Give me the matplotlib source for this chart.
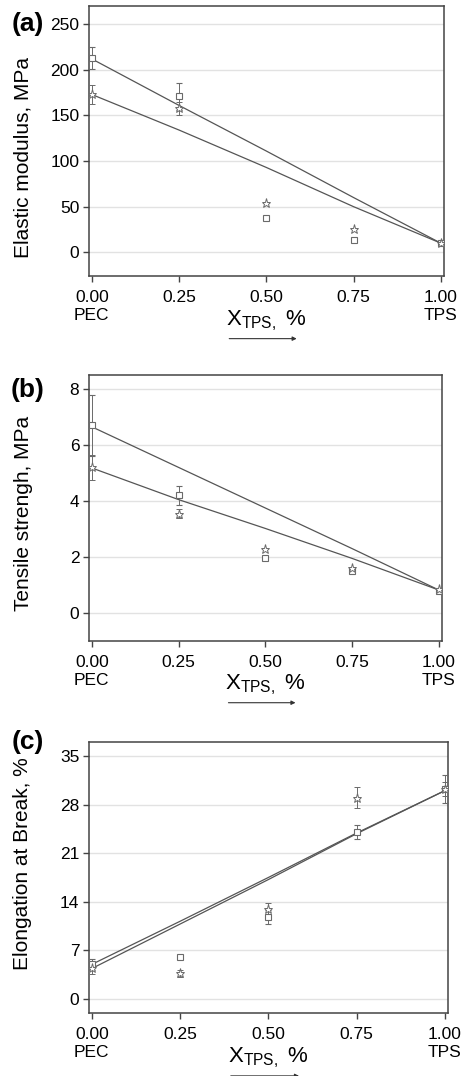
import numpy as np
import matplotlib
matplotlib.use('Agg')
from matplotlib import pyplot as plt

plt.rcParams['font.family'] = ['Liberation Sans', 'DejaVu Sans']
plt.rcParams['mathtext.default'] = 'regular'

# %% data
x = [0.0, 0.25, 0.5, 0.75, 1.0]
xtick_labels = ['0.00\nPEC', '0.25', '0.50', '0.75', '1.00\nTPS']

# (a) elastic modulus, MPa
mod_sq = [213, 171, 38, 14, 10]
mod_sq_err = [12, 15, 0, 0, 1]
mod_st = [173, 158, 54, 26, 10]
mod_st_err = [10, 7, 0, 0, 1]
mod_fit1 = [212, 161, 111, 60, 10]
mod_fit2 = [173, 134, 93, 50, 10]

# (b) tensile strength, MPa
ts_sq = [6.7, 4.2, 1.95, 1.5, 0.8]
ts_sq_err = [1.1, 0.35, 0, 0, 0.05]
ts_st = [5.2, 3.55, 2.3, 1.6, 0.85]
ts_st_err = [0.45, 0.15, 0, 0, 0.05]
ts_fit1 = [6.65, 5.2, 3.75, 2.3, 0.82]
ts_fit2 = [5.18, 4.05, 3.02, 1.95, 0.82]

# (c) elongation at break, %
el_sq = [5.0, 6.0, 11.8, 24.0, 30.2]
el_sq_err = [0.8, 0.2, 1.0, 1.0, 2.0]
el_st = [4.5, 3.7, 13.0, 29.0, 30.2]
el_st_err = [0.9, 0.5, 0.8, 1.5, 1.0]
el_fit1 = [5.0, 11.2, 17.5, 23.9, 30.0]
el_fit2 = [4.4, 10.8, 17.2, 23.8, 30.0]

W, H = 472, 1076
fig = plt.figure(figsize=(W / 100, H / 100), dpi=100)


def px_axes(left, right, top, bottom):
    return fig.add_axes([left / W, (H - bottom) / H, (right - left) / W, (bottom - top) / H])


def panel(ax, tag, tag_y, ylabel, yticks, ylim, sq, sq_err, st, st_err, fit1, fit2, ylab_y):
    lc = '#555555'
    mc = '#6a6a6a'
    ax.plot(x, fit1, color=lc, lw=0.9, zorder=3)
    ax.plot(x, fit2, color=lc, lw=0.9, zorder=3)
    ax.errorbar(x, sq, yerr=sq_err, fmt='s', ms=4.5, mfc='white', mec=mc, mew=0.8,
                ecolor=mc, elinewidth=0.7, capsize=2.2, capthick=0.7, zorder=4)
    ax.errorbar(x, st, yerr=st_err, fmt='*', ms=6.5, mfc='white', mec=mc, mew=0.7,
                ecolor=mc, elinewidth=0.7, capsize=2.2, capthick=0.7, zorder=4)
    ax.set_xlim(-0.008, 1.009)
    ax.set_ylim(*ylim)
    ax.set_yticks(yticks)
    ax.set_xticks(x)
    ax.set_xticklabels(xtick_labels, linespacing=1.25)
    ax.grid(axis='y', color='#e2e2e2', lw=1.0)
    ax.set_axisbelow(True)
    for s in ax.spines.values():
        s.set_color('#444444')
        s.set_linewidth(1.1)
    ax.tick_params(labelsize=12.5, length=4, width=1, color='#444444', pad=3)
    ax.tick_params(axis='x', pad=6)
    ax.set_ylabel(ylabel, fontsize=15)
    ax.yaxis.set_label_coords(-0.16, ylab_y)
    ax.text(0.5, -0.165, r"$X_{TPS,}$ %", transform=ax.transAxes, ha='center', va='center',
            fontsize=16)
    ax.annotate('', xy=(0.585, -0.232), xytext=(0.395, -0.232), xycoords='axes fraction',
                arrowprops=dict(arrowstyle='-|>', color='#333333', lw=0.8,
                                mutation_scale=6, shrinkA=0, shrinkB=0),
                annotation_clip=False)
    fig.text(28 / W, 1 - tag_y / H, tag, ha='center', va='center',
             fontsize=19, fontweight='bold')


ax1 = px_axes(89, 444, 6, 276)
panel(ax1, '(a)', 24, 'Elastic modulus, MPa', [0, 50, 100, 150, 200, 250], (-26, 270),
      mod_sq, mod_sq_err, mod_st, mod_st_err, mod_fit1, mod_fit2, 0.44)

ax2 = px_axes(89, 442, 375, 641)
panel(ax2, '(b)', 390, 'Tensile strengh, MPa', [0, 2, 4, 6, 8], (-1.0, 8.5),
      ts_sq, ts_sq_err, ts_st, ts_st_err, ts_fit1, ts_fit2, 0.48)

ax3 = px_axes(89, 448, 742, 1013)
panel(ax3, '(c)', 742, 'Elongation at Break, %', [0, 7, 14, 21, 28, 35], (-2.0, 37.0),
      el_sq, el_sq_err, el_st, el_st_err, el_fit1, el_fit2, 0.55)

fig.savefig('out.png', dpi=100)
